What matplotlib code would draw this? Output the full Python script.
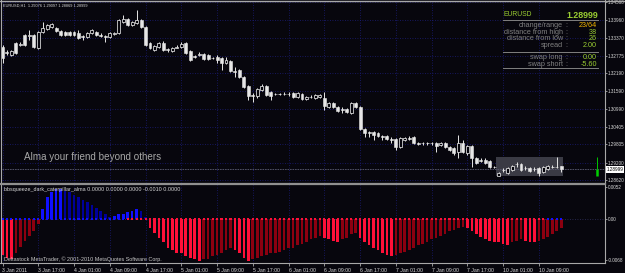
import matplotlib
matplotlib.use('Agg')
import matplotlib.pyplot as plt
from matplotlib.patches import Rectangle
import numpy as np

# ---------------- data ----------------
symbol = 'EURUSD'
timeframe = 'H1'

opens = [1.3306, 1.3289, 1.3279, 1.3319, 1.3313, 1.3346, 1.3343, 1.3346, 1.3303, 1.3356,
         1.3366, 1.3373, 1.3369, 1.3359, 1.3356, 1.3356, 1.3356, 1.3353, 1.3343, 1.3339,
         1.3353, 1.3356, 1.3346, 1.3343, 1.3339, 1.3349, 1.3353, 1.3390, 1.3400, 1.3380,
         1.3386, 1.3396, 1.3373, 1.3319, 1.3296, 1.3306, 1.3319, 1.3299, 1.3293, 1.3303,
         1.3306, 1.3319, 1.3293, 1.3276, 1.3279, 1.3283, 1.3279, 1.3269, 1.3273, 1.3269,
         1.3253, 1.3259, 1.3226, 1.3229, 1.3206, 1.3176, 1.3146, 1.3142, 1.3162, 1.3176,
         1.3156, 1.3149, 1.3149, 1.3149, 1.3150, 1.3152, 1.3139, 1.3149, 1.3132, 1.3139,
         1.3136, 1.3139, 1.3136, 1.3106, 1.3119, 1.3106, 1.3099, 1.3099, 1.3086, 1.3119,
         1.3106, 1.3032, 1.3022, 1.3022, 1.3019, 1.3009, 1.3009, 1.2999, 1.2999, 1.2972,
         1.2995, 1.3002, 1.3005, 1.2985, 1.2985, 1.2985, 1.2986, 1.2985, 1.2979, 1.2985,
         1.2972, 1.2969, 1.2955, 1.2985, 1.2952, 1.2975, 1.2935, 1.2929, 1.2929, 1.2925,
         1.2905, 1.2875, 1.2895, 1.2885, 1.2895, 1.2915, 1.2915, 1.2902, 1.2902, 1.2899,
         1.2902, 1.2889, 1.2899, 1.2905, 1.2905, 1.29076]
highs = [1.3313, 1.3296, 1.3296, 1.3323, 1.3323, 1.3349, 1.3363, 1.3349, 1.3359, 1.3390,
         1.3383, 1.3386, 1.3373, 1.3363, 1.3359, 1.3359, 1.3359, 1.3363, 1.3346, 1.3356,
         1.3366, 1.3359, 1.3353, 1.3346, 1.3356, 1.3356, 1.3400, 1.3413, 1.3403, 1.3393,
         1.3430, 1.3400, 1.3376, 1.3323, 1.3313, 1.3323, 1.3326, 1.3303, 1.3306, 1.3313,
         1.3323, 1.3323, 1.3296, 1.3279, 1.3289, 1.3286, 1.3283, 1.3273, 1.3279, 1.3273,
         1.3273, 1.3263, 1.3239, 1.3233, 1.3209, 1.3179, 1.3152, 1.3169, 1.3182, 1.3179,
         1.3159, 1.3152, 1.3152, 1.3156, 1.3156, 1.3156, 1.3156, 1.3152, 1.3142, 1.3146,
         1.3149, 1.3149, 1.3156, 1.3122, 1.3122, 1.3109, 1.3106, 1.3102, 1.3122, 1.3122,
         1.3109, 1.3035, 1.3025, 1.3025, 1.3022, 1.3012, 1.3012, 1.3005, 1.3002, 1.3005,
         1.3005, 1.3009, 1.3009, 1.2989, 1.2989, 1.2989, 1.2989, 1.2989, 1.2989, 1.2989,
         1.2975, 1.2972, 1.3012, 1.2995, 1.2979, 1.2979, 1.2939, 1.2935, 1.2935, 1.2929,
         1.2909, 1.2889, 1.2902, 1.2905, 1.2912, 1.2922, 1.2919, 1.2909, 1.2905, 1.2905,
         1.2905, 1.2909, 1.2912, 1.2912, 1.29379, 1.29097]
lows = [1.3253, 1.3279, 1.3276, 1.3283, 1.3309, 1.3309, 1.3329, 1.3303, 1.3299, 1.3353,
        1.3363, 1.3369, 1.3356, 1.3343, 1.3343, 1.3343, 1.3343, 1.3333, 1.3329, 1.3336,
        1.3349, 1.3343, 1.3339, 1.3323, 1.3336, 1.3346, 1.3349, 1.3386, 1.3376, 1.3376,
        1.3383, 1.3369, 1.3309, 1.3299, 1.3293, 1.3303, 1.3293, 1.3289, 1.3289, 1.3303,
        1.3303, 1.3283, 1.3259, 1.3269, 1.3276, 1.3263, 1.3263, 1.3266, 1.3253, 1.3229,
        1.3249, 1.3223, 1.3206, 1.3203, 1.3169, 1.3129, 1.3122, 1.3136, 1.3159, 1.3142,
        1.3129, 1.3146, 1.3146, 1.3146, 1.3142, 1.3136, 1.3136, 1.3129, 1.3129, 1.3136,
        1.3132, 1.3136, 1.3096, 1.3102, 1.3102, 1.3089, 1.3086, 1.3086, 1.3082, 1.3102,
        1.3029, 1.3005, 1.3005, 1.2995, 1.3005, 1.2995, 1.2995, 1.2985, 1.2962, 1.2969,
        1.2992, 1.2995, 1.2982, 1.2979, 1.2979, 1.2979, 1.2979, 1.2955, 1.2975, 1.2969,
        1.2959, 1.2945, 1.2935, 1.2952, 1.2945, 1.2905, 1.2915, 1.2922, 1.2915, 1.2902,
        1.2902, 1.28739, 1.2889, 1.2882, 1.2892, 1.2905, 1.2892, 1.2895, 1.2889, 1.2892,
        1.2876, 1.2885, 1.2895, 1.2902, 1.2902, 1.28869]
closes = [1.3269, 1.3286, 1.3293, 1.3286, 1.3316, 1.3313, 1.3346, 1.3306, 1.3356, 1.3369,
          1.3380, 1.3383, 1.3359, 1.3346, 1.3346, 1.3346, 1.3346, 1.3336, 1.3339, 1.3353,
          1.3363, 1.3346, 1.3343, 1.3339, 1.3353, 1.3353, 1.3396, 1.3400, 1.3380, 1.3390,
          1.3396, 1.3373, 1.3313, 1.3303, 1.3309, 1.3319, 1.3296, 1.3296, 1.3303, 1.3306,
          1.3316, 1.3286, 1.3263, 1.3273, 1.3283, 1.3266, 1.3266, 1.3268, 1.3263, 1.3253,
          1.3263, 1.3226, 1.3223, 1.3206, 1.3172, 1.3142, 1.3142, 1.3166, 1.3176, 1.3146,
          1.3142, 1.3148, 1.3150, 1.3148, 1.3149, 1.3139, 1.3152, 1.3132, 1.3139, 1.3138,
          1.3146, 1.3146, 1.3109, 1.3119, 1.3106, 1.3092, 1.3096, 1.3089, 1.3119, 1.3106,
          1.3032, 1.3019, 1.3019, 1.3012, 1.3009, 1.3005, 1.2999, 1.2995, 1.2972, 1.3002,
          1.3002, 1.2999, 1.2985, 1.2982, 1.2984, 1.2986, 1.2984, 1.2975, 1.2985, 1.2972,
          1.2962, 1.2952, 1.2985, 1.2955, 1.2975, 1.2935, 1.2919, 1.2925, 1.2919, 1.2905,
          1.2904, 1.2885, 1.2896, 1.2902, 1.2909, 1.2914, 1.2895, 1.2901, 1.2892, 1.2898,
          1.2885, 1.2905, 1.2909, 1.2906, 1.2904, 1.28999]

osc_values = [-0.0059, -0.0064, -0.0066, -0.0056, -0.0046, -0.0036, -0.0028, -0.0020, -0.0009, 0.0015,
              0.0036, 0.0044, 0.0048, 0.0049, 0.0046, 0.0043, 0.0039, 0.0036, 0.0031, 0.0028,
              0.0023, 0.0018, 0.0013, 0.0008, 0.0003, 0.0005, 0.0007, 0.0008, 0.0011, 0.0013,
              0.0016, 0.0013, 0.0003, -0.0015, -0.0023, -0.0031, -0.0039, -0.0048, -0.0052, -0.0056,
              -0.0057, -0.0061, -0.0064, -0.0066, -0.0069, -0.0067, -0.0066, -0.0062, -0.0059, -0.0056,
              -0.0052, -0.0048, -0.0051, -0.0057, -0.0064, -0.0070, -0.0067, -0.0064, -0.0062, -0.0059,
              -0.0057, -0.0056, -0.0054, -0.0052, -0.0049, -0.0048, -0.0044, -0.0041, -0.0038, -0.0034,
              -0.0031, -0.0028, -0.0031, -0.0034, -0.0036, -0.0038, -0.0034, -0.0031, -0.0026, -0.0023,
              -0.0031, -0.0038, -0.0043, -0.0048, -0.0052, -0.0056, -0.0059, -0.0061, -0.0059, -0.0057,
              -0.0054, -0.0051, -0.0048, -0.0044, -0.0041, -0.0038, -0.0034, -0.0031, -0.0028, -0.0025,
              -0.0021, -0.0018, -0.0015, -0.0013, -0.0016, -0.0021, -0.0026, -0.0030, -0.0033, -0.0036,
              -0.0038, -0.0039, -0.0041, -0.0043, -0.0039, -0.0036, -0.0034, -0.0036, -0.0038, -0.0039,
              -0.0037, -0.0033, -0.0030, -0.0025, -0.0020, -0.0015]
squeeze = [0] * 28 + [1] * 94 + [0] * 4

time_label_bars = [0, 8, 16, 24, 32, 40, 48, 56, 64, 72, 80, 88, 96, 104, 112, 120]
time_labels = ['3 Jan 2011', '3 Jan 17:00', '4 Jan 01:00', '4 Jan 09:00', '4 Jan 17:00',
               '5 Jan 01:00', '5 Jan 09:00', '5 Jan 17:00', '6 Jan 01:00', '6 Jan 09:00',
               '6 Jan 17:00', '7 Jan 01:00', '7 Jan 09:00', '7 Jan 17:00', '10 Jan 01:00',
               '10 Jan 09:00']
price_ticks = [1.34560, 1.33960, 1.33370, 1.32775, 1.32190, 1.31590, 1.30990,
               1.30405, 1.29805, 1.29200, 1.28620]
osc_ticks = [0.0052, 0.0, -0.0068]
osc_tick_labels = ['0.0052', '0.00', '-0.0068']

bid = 1.28999
day_high = 1.29379
day_low = 1.28739
day_first_bar = 111

info_labels = ['change/range', 'distance from high', 'distance from low', 'spread',
               'swap long', 'swap short']
info_values = ['23/64', '38', '26', '2.00', '0.00', '-5.60']
indicator_name = 'bbsqueeze_dark_caterpillar_alma'
indicator_buffers = ['0.0000', '0.0000', '0.0000', '-0.0010', '0.0000']

# ---------------- style ----------------
W, H = 625, 273
BG = '#07060d'
GRID = '#1c1c78'
FRAME = '#a8a8a8'
TXT = '#d8d8d8'
CANDLE = '#e6e6e6'
YG = '#9acd32'
FONT = ['Liberation Sans', 'DejaVu Sans']
plt.rcParams['font.family'] = FONT


def fx(px):
    return px / W


def fy(py):
    return 1 - py / H


fig = plt.figure(figsize=(W / 100, H / 100), dpi=100, facecolor=BG)

bar_px = 4.47
x0_px = 2.5
left_px, right_px = 2.0, 604.5
xlim = ((left_px - x0_px) / bar_px, (right_px - x0_px) / bar_px)

ax1 = fig.add_axes([fx(left_px), fy(182.5), fx(right_px - left_px), 181.5 / H])
ax2 = fig.add_axes([fx(left_px), fy(263), fx(right_px - left_px), 78.5 / H])
for ax in (ax1, ax2):
    ax.set_facecolor(BG)
    ax.set_xlim(*xlim)
    for s in ax.spines.values():
        s.set_visible(False)

# price scale: 1 px = 0.000334
ax1.set_ylim(1.28535, 1.34597)

n = len(closes)
xs = np.arange(n)
o = np.array(opens); c = np.array(closes); h = np.array(highs); l = np.array(lows)

# day range box
ax1.add_patch(Rectangle((day_first_bar - 0.6, day_low), n - day_first_bar + 0.1, day_high - day_low,
                        facecolor='#3a3a44', edgecolor='none', zorder=1))

# grid
for p in price_ticks:
    ax1.axhline(p, color=GRID, lw=0.6, ls=(0, (1, 2)), zorder=0)
for b in time_label_bars:
    ax1.axvline(b, color=GRID, lw=0.6, ls=(0, (1, 2)), zorder=0)
    ax2.axvline(b, color=GRID, lw=0.6, ls=(0, (1, 2)), zorder=0)

# bid line
ax1.axhline(bid, color='#5a5a70', lw=0.6, ls=(0, (2, 1)), zorder=1)

# candles
ax1.vlines(xs, l, h, color=CANDLE, lw=0.7, zorder=3)
bw = 0.66
for i in range(n):
    lo, hi = min(o[i], c[i]), max(o[i], c[i])
    ht = max(hi - lo, 0.00008)
    if c[i] > o[i]:
        ax1.add_patch(Rectangle((i - bw / 2, lo), bw, ht, facecolor=BG, edgecolor=CANDLE,
                                lw=0.55, zorder=4))
    else:
        ax1.add_patch(Rectangle((i - bw / 2, lo), bw, ht, facecolor=CANDLE, edgecolor=CANDLE,
                                lw=0.4, zorder=4))

# green day bar on the right
gx = (596.7 - x0_px) / bar_px
ax1.vlines(gx, bid, day_high, color='#00c800', lw=0.7, zorder=3)
ax1.vlines(gx, day_low, bid, color='#00d000', lw=1.8, zorder=3)

# price axis
ax1.yaxis.tick_right()
ax1.set_yticks(price_ticks)
ax1.set_yticklabels([f'{p:.5f}' for p in price_ticks])
ax1.tick_params(axis='y', length=1.5, width=0.6, colors=FRAME, labelcolor=TXT,
                labelsize=3.35, pad=0.7)
ax1.set_xticks([])

# oscillator
ax2.set_ylim(-0.00728, 0.00559)
v = np.array(osc_values)
prev = np.concatenate([[0.0], v[:-1]])
cols = []
for i in range(n):
    if v[i] >= 0:
        cols.append('#1010ff' if (i == 0 or v[i] >= prev[i]) else '#00009a')
    else:
        cols.append('#ff1038' if (i == 0 or v[i] <= prev[i]) else '#8c0010')
ax2.bar(xs, v, width=0.6, color=cols, zorder=2)
ax2.axhline(0, color='#303060', lw=0.6, ls=(0, (1, 2)), zorder=1)
dot_cols = ['#ff1038' if s else '#1010ff' for s in squeeze]
ax2.scatter(xs, np.zeros(n), s=2.2, marker='s', c=dot_cols, linewidths=0, zorder=3)

ax2.yaxis.tick_right()
ax2.set_yticks(osc_ticks)
ax2.set_yticklabels(osc_tick_labels)
ax2.tick_params(axis='y', length=1.5, width=0.6, colors=FRAME, labelcolor=TXT,
                labelsize=3.35, pad=0.7)
ax2.set_xticks(time_label_bars)
ax2.set_xticklabels(time_labels, ha='left')
ax2.tick_params(axis='x', length=2.5, width=0.6, colors=FRAME, labelcolor=TXT,
                labelsize=3.7, pad=0.8)

# frame lines
fig.add_artist(plt.Line2D([0, 1], [fy(0.8), fy(0.8)], color=FRAME, lw=1.0))
fig.add_artist(plt.Line2D([fx(1), fx(1)], [fy(0), fy(263)], color=FRAME, lw=0.8))
fig.add_artist(plt.Line2D([fx(right_px), fx(right_px)], [fy(0), fy(263)], color=FRAME, lw=0.8))
fig.add_artist(plt.Line2D([fx(0), fx(right_px)], [fy(183.5), fy(183.5)], color='#909090', lw=1.6))
fig.add_artist(plt.Line2D([fx(0), fx(right_px)], [fy(263), fy(263)], color=FRAME, lw=0.8))

# texts
fig.text(fx(3), fy(6), f'{symbol},{timeframe}  1.29076 1.29097 1.28869 1.28999',
         fontsize=2.75, color=TXT, va='center', ha='left')
fig.text(fx(24), fy(156.5), 'Alma your friend beyond others', fontsize=7.1,
         color='#a8a8a8', va='center', ha='left')
fig.text(fx(4), fy(190), indicator_name + ' ' + ' '.join(indicator_buffers), fontsize=3.9,
         color=TXT, va='center', ha='left')
fig.text(fx(4), fy(259), 'Deltastock MetaTrader, \u00a9 2001-2010 MetaQuotes Software Corp.',
         fontsize=3.9, color='#c8c8c8', va='center', ha='left')

# info panel
fig.text(fx(503), fy(14.5), symbol, fontsize=4.9, color=YG, va='center', ha='left')
fig.text(fx(598), fy(15), f'{bid:.5f}', fontsize=6.4, color=YG, va='center', ha='right',
         fontweight='bold')
for yy in (20, 52, 68.3):
    fig.add_artist(plt.Line2D([fx(503), fx(598)], [fy(yy), fy(yy)], color='#808080', lw=0.7))
rows_y = [25.3, 32.3, 39, 45.7, 57.3, 64]
for lab, val, yy, k in zip(info_labels, info_values, rows_y, range(6)):
    fig.text(fx(563), fy(yy), lab, fontsize=5.2, color='#808080', va='center', ha='right')
    fig.text(fx(566), fy(yy), ':', fontsize=5.2, color='#808080', va='center', ha='center')
    fig.text(fx(597), fy(yy), val, fontsize=5.2, color=('#f0b400' if k == 0 else YG),
             va='center', ha='right')

# current price label
fig.text(fx(606.5), fy(169.5), f'{bid:.5f}', fontsize=3.35, color='black', va='center',
         ha='left', bbox=dict(boxstyle='square,pad=0.15', facecolor='white', edgecolor='none'))

fig.savefig('out.png', dpi=100, facecolor=BG)
